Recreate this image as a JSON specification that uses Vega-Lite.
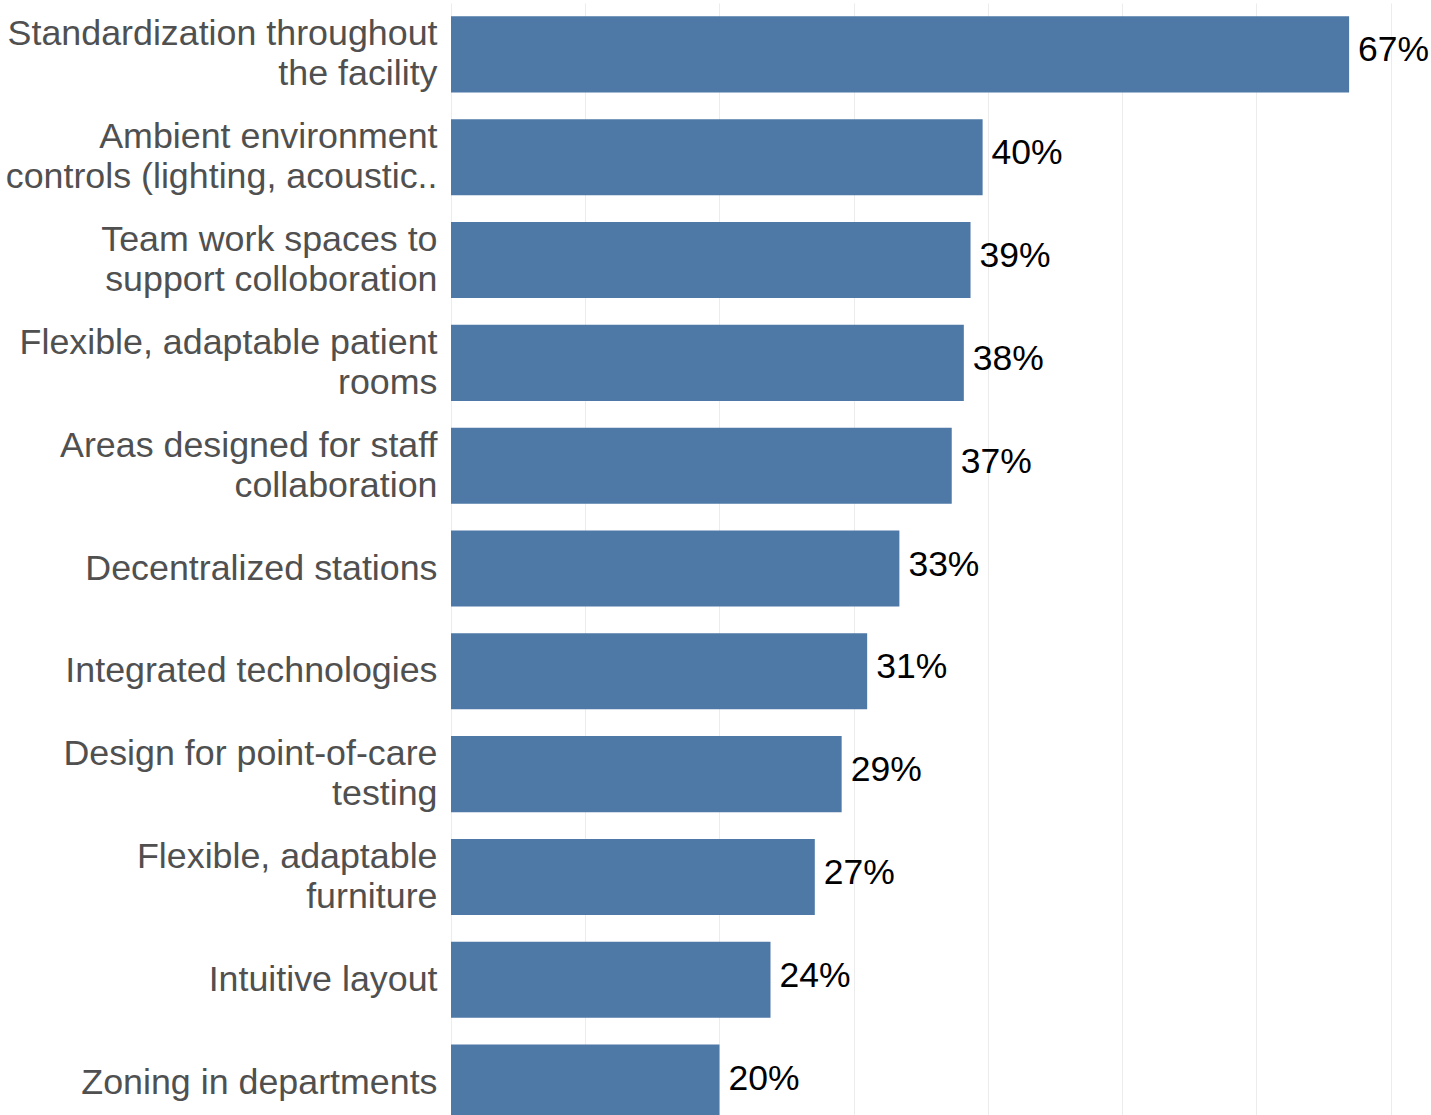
{
  "$schema": "https://vega.github.io/schema/vega-lite/v6.json",
  "width": 980,
  "height": 1131,
  "autosize": "none",
  "padding": {"left": 451, "top": 3, "right": 0, "bottom": 0},
  "background": "white",
  "config": {
    "view": {"stroke": null},
    "font": "Liberation Sans"
  },
  "data": {
    "values": [
      {"feature": "Standardization throughout|the facility", "pct": 66.9, "label": "67%"},
      {"feature": "Ambient environment|controls (lighting, acoustic..", "pct": 39.6, "label": "40%"},
      {"feature": "Team work spaces to|support colloboration", "pct": 38.7, "label": "39%"},
      {"feature": "Flexible, adaptable patient|rooms", "pct": 38.2, "label": "38%"},
      {"feature": "Areas designed for staff|collaboration", "pct": 37.3, "label": "37%"},
      {"feature": "Decentralized stations", "pct": 33.4, "label": "33%"},
      {"feature": "Integrated technologies", "pct": 31.0, "label": "31%"},
      {"feature": "Design for point-of-care|testing", "pct": 29.1, "label": "29%"},
      {"feature": "Flexible, adaptable|furniture", "pct": 27.1, "label": "27%"},
      {"feature": "Intuitive layout", "pct": 23.8, "label": "24%"},
      {"feature": "Zoning in departments", "pct": 20.0, "label": "20%"}
    ]
  },
  "encoding": {
    "y": {
      "field": "feature",
      "type": "nominal",
      "sort": null,
      "title": null,
      "scale": {"paddingInner": 0.26, "paddingOuter": 0.13},
      "axis": {
        "labelExpr": "split(datum.label, '|')",
        "labelFontSize": 35.8,
        "labelLineHeight": 40,
        "labelColor": "#505050",
        "labelPadding": 14,
        "labelLimit": 0,
        "labelOffset": {"expr": "indexof(datum.label, '|') >= 0 ? -20 : 0"},
        "ticks": false,
        "domain": false
      }
    },
    "x": {
      "field": "pct",
      "type": "quantitative",
      "scale": {"domain": [0, 73], "nice": false},
      "axis": {
        "values": [0, 10, 20, 30, 40, 50, 60, 70],
        "labels": false,
        "ticks": false,
        "domain": false,
        "title": null,
        "gridColor": "#ececec",
        "gridWidth": 1
      }
    }
  },
  "layer": [
    {
      "mark": {"type": "bar", "color": "#4e79a7"}
    },
    {
      "mark": {
        "type": "text",
        "align": "left",
        "baseline": "middle",
        "dx": 9,
        "dy": -4,
        "fontSize": 35.5,
        "color": "#000000"
      },
      "encoding": {
        "text": {"field": "label"}
      }
    }
  ]
}
